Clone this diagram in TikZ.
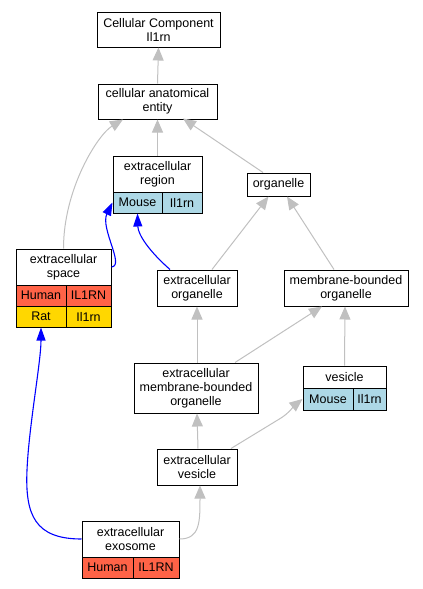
\documentclass[tikz,border=0pt]{standalone}
\usepackage{fontspec}
\setmainfont{Liberation Sans}
\usetikzlibrary{arrows.meta,calc}
\definecolor{hum}{HTML}{FF6347}
\definecolor{rat}{HTML}{FFD700}
\definecolor{mou}{HTML}{ADD8E6}
\definecolor{edgegray}{HTML}{C0C0C0}
\tikzset{
  term/.style={draw=black, line width=1pt, fill=white, inner sep=0pt, align=center,
    font=\fontsize{12.5}{14}\selectfont},
  cell/.style={term},
  isa/.style={draw=edgegray, line width=1pt, -{Triangle[length=13pt,width=11pt]}},
  ann/.style={draw=blue, line width=1.1pt, -{Triangle[length=13pt,width=9pt]}},
}
\begin{document}
\begin{tikzpicture}[x=1pt,y=-1pt]
\useasboundingbox (0,0) rectangle (423,589);
% nodes
\node[term, minimum width=123pt, minimum height=35pt] (cc) at (158.5,29.5) {Cellular Component\\Il1rn};
\node[term, minimum width=119pt, minimum height=35pt] (cae) at (157.5,101.5) {cellular anatomical\\entity};
\node[term, minimum width=89pt, minimum height=36pt] (er) at (157.5,174) {extracellular\\region};
\node[cell, fill=mou, minimum width=49pt, minimum height=21pt] (ermouse) at (137.5,202.5) {Mouse};
\node[cell, fill=mou, minimum width=40pt, minimum height=21pt] (ergene) at (182,202.5) {Il1rn};
\node[term, minimum width=63pt, minimum height=23pt] (org) at (278.5,184.5) {organelle};
\node[term, minimum width=95pt, minimum height=36pt] (es) at (63.5,267) {extracellular\\space};
\node[cell, fill=hum, minimum width=50pt, minimum height=21pt] (eshuman) at (41,295.5) {Human};
\node[cell, fill=hum, minimum width=45pt, minimum height=21pt] (eshgene) at (88.5,295.5) {IL1RN};
\node[cell, fill=rat, minimum width=50pt, minimum height=21pt] (esrat) at (41,316.5) {Rat};
\node[cell, fill=rat, minimum width=45pt, minimum height=21pt] (esrgene) at (88.5,316.5) {Il1rn};
\node[term, minimum width=80pt, minimum height=36pt] (eo) at (197,288) {extracellular\\organelle};
\node[term, minimum width=124pt, minimum height=36pt] (mbo) at (346,288) {membrane-bounded\\organelle};
\node[term, minimum width=124pt, minimum height=50pt] (embo) at (196,388) {extracellular\\membrane-bounded\\organelle};
\node[term, minimum width=83pt, minimum height=22pt] (ves) at (344.5,377) {vesicle};
\node[cell, fill=mou, minimum width=50pt, minimum height=22pt] (vmouse) at (328,399) {Mouse};
\node[cell, fill=mou, minimum width=33pt, minimum height=22pt] (vgene) at (369.5,399) {Il1rn};
\node[term, minimum width=80pt, minimum height=36pt] (ev) at (197,467) {extracellular\\vesicle};
\node[term, minimum width=97pt, minimum height=36pt] (ex) at (130.5,539) {extracellular\\exosome};
\node[cell, fill=hum, minimum width=51pt, minimum height=21pt] (exhuman) at (107.5,567.5) {Human};
\node[cell, fill=hum, minimum width=46pt, minimum height=21pt] (exgene) at (156,567.5) {IL1RN};
% gray is_a edges
\draw[isa] (cae.north) -- (cc.south);
\draw[isa] (es.north) .. controls +(0,-60) and +(-25,15) .. ([xshift=-34.5pt]cae.south);
\draw[isa] (er.north) -- (cae.south);
\draw[isa] ([xshift=-15.5pt]org.north) -- ([xshift=25.5pt,yshift=1pt]cae.south);
\draw[isa] ([xshift=15pt]eo.north) -- ([xshift=-10pt]org.south);
\draw[isa] ([xshift=-12pt]mbo.north) -- ([xshift=8.5pt]org.south);
\draw[isa] ([xshift=1pt]embo.north) -- (eo.south);
\draw[isa] ([xshift=39pt]embo.north) -- ([xshift=-24pt]mbo.south);
\draw[isa] (ves.north) -- ([xshift=-1pt]mbo.south);
\draw[isa] ([xshift=1pt]ev.north) -- ([xshift=1pt]embo.south);
\draw[isa] ([xshift=34pt]ev.north) -- (281,418) .. controls (289,413) and (295,405) .. (vmouse.west);
\draw[isa] (ex.east) .. controls (200,539) and (200,522) .. ([xshift=3pt]ev.south);
% blue annotation edges
\draw[ann] (es.east) .. controls (125,266) and (100,228) .. (ermouse.west);
\draw[ann] ([xshift=-27pt]eo.north) .. controls (150,252) and (138,235) .. (ermouse.south);
\draw[ann] (ex.west) .. controls (35,539) and (25,515) .. (27,470) .. controls (29,425) and (41,362) .. (esrat.south);
\end{tikzpicture}
\end{document}
